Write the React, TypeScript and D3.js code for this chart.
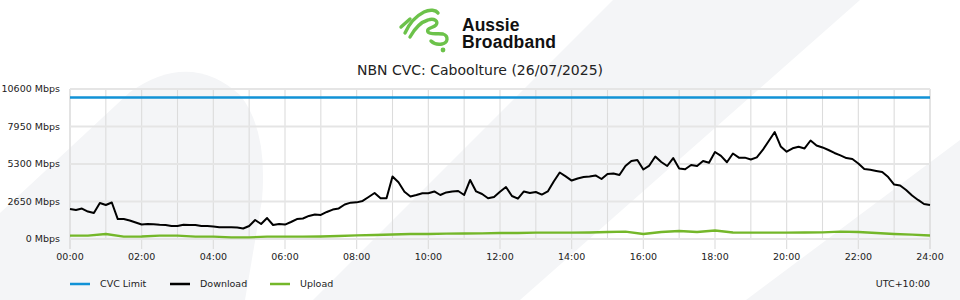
import React from "react";
import * as d3 from "d3";

const TITLE = "NBN CVC: Caboolture (26/07/2025)";
const Y_TICKS = [0, 2650, 5300, 7950, 10600];
const X_TICK_LABELS = ["00:00", "02:00", "04:00", "06:00", "08:00", "10:00", "12:00", "14:00", "16:00", "18:00", "20:00", "22:00", "24:00"];
const CVC_LIMIT = 10000;
// download, every 10 minutes from 00:00 to 24:00
const DOWNLOAD = [
  2120, 2050, 2150, 1940, 1840, 2540, 2400, 2580, 1410, 1410, 1310, 1170,
  1020, 1060, 1040, 1010, 990, 920, 920, 1010, 990, 990, 920, 920,
  880, 830, 830, 830, 810, 740, 920, 1340, 1060, 1480, 990, 1060,
  1020, 1200, 1410, 1450, 1630, 1730, 1700, 1910, 2080, 2160, 2440, 2570,
  2590, 2690, 2970, 3250, 2880, 2880, 4420, 4010, 3340, 3000, 3110, 3230,
  3230, 3360, 3110, 3290, 3360, 3390, 3110, 4170, 3360, 3180, 2880, 2970,
  3340, 3670, 3040, 2850, 3360, 3250, 3320, 3140, 3360, 4060, 4700, 4420,
  4130, 4280, 4380, 4420, 4490, 4240, 4590, 4630, 4520, 5160, 5510, 5580,
  4910, 5190, 5830, 5440, 5160, 5720, 4980, 4930, 5230, 5160, 5510, 5390,
  6150, 5870, 5420, 6040, 5750, 5750, 5620, 5770, 6290, 6930, 7560, 6540,
  6170, 6410, 6520, 6400, 6960, 6610, 6470, 6290, 6080, 5910, 5720, 5650,
  5340, 4950, 4890, 4810, 4730, 4380, 3850, 3780, 3460, 3070, 2760, 2470,
  2400,
];
// upload, every 30 minutes from 00:00 to 24:00
const UPLOAD = [
  233, 233, 353, 163, 177, 233, 233, 163, 163, 120, 120, 163,
  163, 163, 177, 212, 261, 283, 318, 353, 353, 375, 389, 403,
  424, 424, 445, 445, 445, 459, 495, 516, 353, 495, 565, 495,
  600, 459, 445, 445, 445, 459, 473, 516, 495, 424, 353, 304,
  247,
];
const LEGEND = [
  { name: "CVC Limit", color: "#1192d6" },
  { name: "Download", color: "#000000" },
  { name: "Upload", color: "#74b72a" },
];

const FONT = "'DejaVu Sans', Verdana, sans-serif";

export default function App() {
  const W = 960, H = 300;
  const x = d3.scaleLinear().domain([0, 24]).range([70, 930]);
  const y = d3.scaleLinear().domain([0, 10600]).range([239, 89]);

  const dlLine = d3.line<number>().x((_, i) => x(i / 6)).y((d) => y(d));
  const ulLine = d3.line<number>().x((_, i) => x(i / 2)).y((d) => y(d));
  const hours = d3.range(0, 25);

  return (
    <div style={{ position: "absolute", left: 0, top: 0 }}>
      <svg width={W} height={H} style={{ display: "block", background: "#fff" }}>
        {/* background decorations */}
        <g fill="#f4f5f7">
          <path d="M0,300 L0,213 L130,92 Q190,50 240,95 Q268,130 262,200 L245,300 Z" />
          <path d="M613,0 L860,0 L520,300 L313,300 Z" />
          <path d="M960,140 L960,300 L746,300 Z" />
        </g>

        {/* logo */}
        <g fill="none" stroke="#6cc24a" strokeWidth={3.4} strokeLinecap="round" strokeLinejoin="round">
          <path d="M401,27 L410,19" />
          <path d="M405,33 C409,24 416,16 424,12 C430,9 436,10 438,13" />
          <path d="M410,37 C415,28 421,22 428,20 C434,18 439,21 436,25 C433,28 426,28 428,32 C430,35 438,33 443,34 C449,36 448,43 442,44 C437,45 433,43 431,41" />
        </g>
        <circle cx={443} cy={50} r={2.4} fill="#6cc24a" />
        <text x={462} y={31} fontFamily="'Liberation Sans', Arial, sans-serif" fontWeight={700} fontSize={17.5} fill="#111">Aussie</text>
        <text x={462} y={48} fontFamily="'Liberation Sans', Arial, sans-serif" fontWeight={700} fontSize={17.5} letterSpacing={0.2} fill="#111">Broadband</text>

        <text x={480} y={75} textAnchor="middle" fontFamily={FONT} fontSize={14} fill="#222">{TITLE}</text>

        {/* grid */}
        <g>
          {hours.map((h) => (
            <line key={"v" + h} x1={x(h)} x2={x(h)} y1={y(10600)} y2={h % 2 === 0 ? 249 : y(0)} stroke="#dcdcdc" strokeWidth={h === 0 || h === 24 ? 1.6 : 1.1} />
          ))}
          {Y_TICKS.map((t) => (
            <line key={"h" + t} x1={x(0)} x2={x(24)} y1={y(t)} y2={y(t)} stroke="#e5e5e5" strokeWidth={2} />
          ))}
        </g>

        {/* y labels */}
        {Y_TICKS.map((t) => (
          <text key={"yl" + t} x={60} y={y(t)} dy="0.35em" textAnchor="end" fontFamily={FONT} fontSize={9.5} fill="#222">{t} Mbps</text>
        ))}
        {/* x labels */}
        {X_TICK_LABELS.map((l, i) => (
          <text key={"xl" + l} x={x(i * 2)} y={260} textAnchor="middle" fontFamily={FONT} fontSize={9.5} fill="#222">{l}</text>
        ))}

        {/* series */}
        <line x1={x(0)} x2={x(24)} y1={y(CVC_LIMIT)} y2={y(CVC_LIMIT)} stroke={LEGEND[0].color} strokeWidth={2.5} />
        <path d={ulLine(UPLOAD) || ""} fill="none" stroke={LEGEND[2].color} strokeWidth={2.3} strokeLinejoin="round" />
        <path d={dlLine(DOWNLOAD) || ""} fill="none" stroke={LEGEND[1].color} strokeWidth={2} strokeLinejoin="round" />

        {/* legend */}
        {LEGEND.map((l, i) => (
          <g key={l.name} transform={`translate(${70 + i * 100},284)`}>
            <line x1={0} x2={20} y1={0} y2={0} stroke={l.color} strokeWidth={2.5} />
            <text x={30} y={0} dy="0.35em" fontFamily={FONT} fontSize={9.5} fill="#222">{l.name}</text>
          </g>
        ))}
        <text x={930} y={284} dy="0.35em" textAnchor="end" fontFamily={FONT} fontSize={9.5} fill="#222">UTC+10:00</text>
      </svg>
    </div>
  );
}
